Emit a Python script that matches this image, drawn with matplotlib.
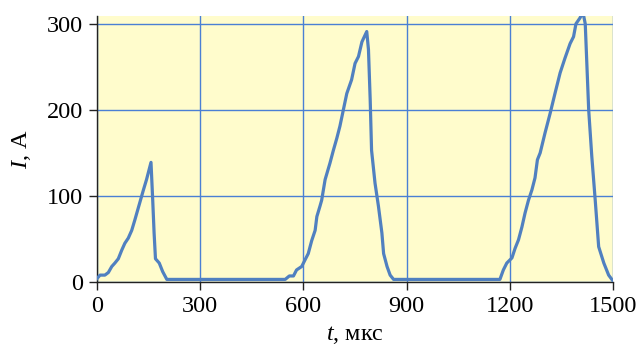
import matplotlib
matplotlib.use("Agg")
import matplotlib.pyplot as plt

plt.rcParams['font.family'] = ['Liberation Serif', 'DejaVu Serif']
plt.rcParams['mathtext.fontset'] = 'custom'
plt.rcParams['mathtext.rm'] = 'Liberation Serif'
plt.rcParams['mathtext.it'] = 'Liberation Serif:italic'

t_us = [0, 9, 23, 33, 43, 52, 62, 72, 81, 91, 101, 110, 120, 125, 135, 144, 157,
        162, 166, 170, 181, 191, 203,
        300, 450, 547, 559, 571, 580, 595, 605, 614, 624, 634, 639, 648, 653, 663,
        677, 687, 697, 706, 716, 726, 740, 750, 760, 770, 784,
        789, 794, 798, 808, 818, 828, 833, 843, 852, 862,
        1000, 1171, 1181, 1191, 1206, 1215, 1225, 1235, 1244, 1254, 1264, 1273,
        1280, 1288, 1302, 1317, 1331, 1346, 1360, 1375, 1385, 1392, 1404, 1412,
        1419, 1429, 1438, 1448, 1458, 1473, 1487, 1500]
current_A = [4, 8, 8, 11, 18, 22, 27, 37, 45, 51, 60, 72, 86, 93, 107, 119, 139,
             95, 57, 27, 22, 12, 3,
             3, 3, 3, 7, 7, 14, 18, 26, 33, 48, 60, 76, 88, 95, 119,
             138, 153, 167, 181, 200, 219, 235, 254, 262, 279, 291,
             270, 212, 153, 115, 88, 57, 33, 18, 8, 3,
             3, 3, 14, 22, 28, 39, 49, 64, 80, 95, 107, 121,
             142, 150, 173, 196, 219, 243, 260, 277, 285, 300, 307, 314,
             300, 200, 146, 95, 41, 22, 8, 1]

x_ticks = [0, 300, 600, 900, 1200, 1500]
y_ticks = [0, 100, 200, 300]

fig = plt.figure(figsize=(6.38, 3.49), dpi=100)
ax = fig.add_axes([0.152, 0.192, 0.809, 0.762])
ax.set_facecolor('#fffccc')
ax.plot(t_us, current_A, color='#5080c0', lw=2.3, solid_joinstyle='round', zorder=3)

ax.set_xlim(0, 1500)
ax.set_ylim(0, 309)
ax.set_xticks(x_ticks)
ax.set_yticks(y_ticks)
ax.grid(True, color='#4a7fd4', lw=1.0)
ax.set_axisbelow(True)
for s in ['top', 'right']:
    ax.spines[s].set_visible(False)
for s in ['left', 'bottom']:
    ax.spines[s].set_color('#222222')
    ax.spines[s].set_linewidth(1.0)
ax.tick_params(axis='both', labelsize=17.5, length=6, width=1.0, color='#222222', pad=4)

ax.set_ylabel(r'$I$, А', fontsize=17.5, labelpad=10)
ax.set_xlabel(r'$t$, мкс', fontsize=17.5, labelpad=5)

fig.savefig('out.png', dpi=100)
